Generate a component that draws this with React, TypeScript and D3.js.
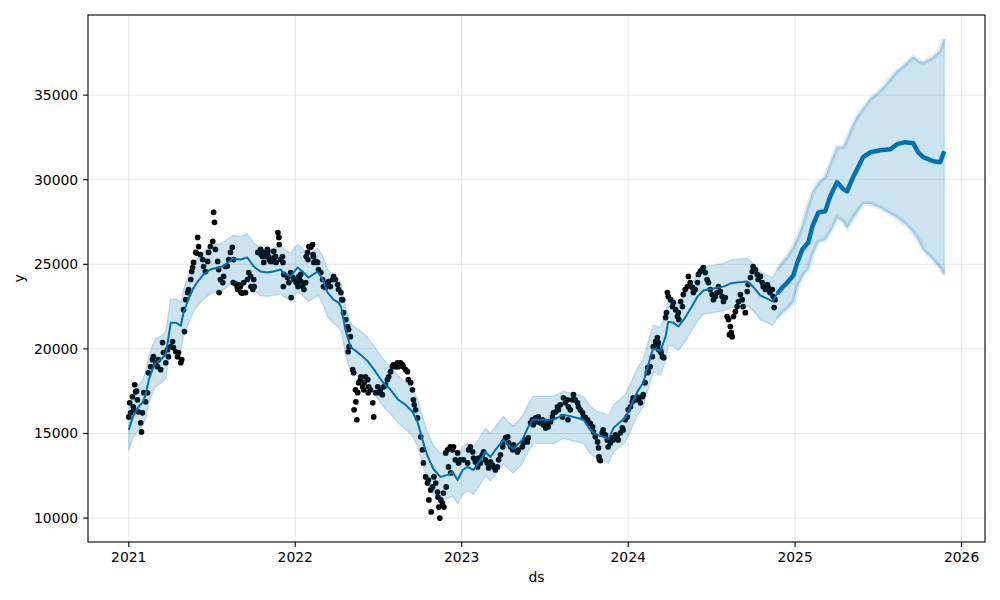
import React from "react";
import * as d3 from "d3";

// Observed data points (ds, y)
const observed: [string, number][] = [
  ["2021-01-01",15980],["2021-01-03",16810],["2021-01-05",16220],["2021-01-09",17170],["2021-01-11",16580],["2021-01-12",16400],["2021-01-14",17880],["2021-01-16",17460],["2021-01-18",17500],["2021-01-20",16990],["2021-01-22",16280],["2021-01-27",15630],["2021-01-29",15090],["2021-01-31",16220],["2021-02-03",17410],["2021-02-07",16870],["2021-02-11",17400],["2021-02-13",18590],["2021-02-18",18950],["2021-02-22",19360],["2021-02-24",19540],["2021-03-01",19180],["2021-03-05",18950],["2021-03-07",19360],["2021-03-12",18770],["2021-03-16",20370],["2021-03-18",19780],["2021-03-23",19180],["2021-03-27",19950],["2021-03-29",19540],["2021-04-03",20130],["2021-04-07",20430],["2021-04-09",20070],["2021-04-14",19830],["2021-04-18",19540],["2021-04-20",19780],["2021-04-25",19180],["2021-04-27",19360],["2021-05-01",22320],["2021-05-03",21020],["2021-05-06",22910],["2021-05-10",23330],["2021-05-12",23510],["2021-05-17",24100],["2021-05-19",24570],["2021-05-21",24810],["2021-05-23",25110],["2021-05-28",25700],["2021-05-30",25650],["2021-06-01",26590],["2021-06-03",26050],["2021-06-07",25580],["2021-06-12",25280],["2021-06-14",24870],["2021-06-18",24570],["2021-06-23",25170],["2021-06-25",25700],["2021-06-29",26050],["2021-07-04",26350],["2021-07-06",28070],["2021-07-08",27480],["2021-07-10",25880],["2021-07-15",25170],["2021-07-17",24690],["2021-07-18",23330],["2021-07-21",24100],["2021-07-26",23920],["2021-07-28",24280],["2021-08-01",24870],["2021-08-05",24900],["2021-08-08",25280],["2021-08-12",25700],["2021-08-16",26000],["2021-08-18",23920],["2021-08-19",25280],["2021-08-23",23850],["2021-08-27",23630],["2021-08-28",23510],["2021-08-30",23800],["2021-09-03",23680],["2021-09-04",23330],["2021-09-07",23300],["2021-09-10",23920],["2021-09-14",23330],["2021-09-18",24100],["2021-09-21",24510],["2021-09-25",24280],["2021-09-26",23680],["2021-09-30",23510],["2021-10-02",24100],["2021-10-03",23680],["2021-10-11",25700],["2021-10-17",25880],["2021-10-18",25580],["2021-10-21",25460],["2021-10-23",25700],["2021-10-24",25110],["2021-10-28",25460],["2021-11-01",25880],["2021-11-02",25760],["2021-11-04",25460],["2021-11-05",25280],["2021-11-08",25170],["2021-11-12",25170],["2021-11-15",25760],["2021-11-16",25400],["2021-11-19",25460],["2021-11-20",25110],["2021-11-24",26880],["2021-11-26",26590],["2021-11-27",26170],["2021-11-30",25280],["2021-12-04",25460],["2021-12-05",25110],["2021-12-06",23680],["2021-12-07",24400],["2021-12-15",24220],["2021-12-18",23920],["2021-12-22",24510],["2021-12-23",23030],["2021-12-27",24220],["2021-12-29",24100],
  ["2022-01-03",23920],["2022-01-06",23900],["2022-01-07",23680],["2022-01-09",24280],["2022-01-10",24100],["2022-01-13",24400],["2022-01-14",23980],["2022-01-17",23680],["2022-01-20",23510],["2022-01-24",23920],["2022-01-25",25460],["2022-01-28",25700],["2022-01-29",25280],["2022-01-31",26050],["2022-02-04",26000],["2022-02-08",26170],["2022-02-09",25580],["2022-02-10",25460],["2022-02-11",25110],["2022-02-15",25170],["2022-02-19",25110],["2022-02-21",24690],["2022-02-26",24510],["2022-03-02",24100],["2022-03-04",23680],["2022-03-08",23630],["2022-03-13",23920],["2022-03-15",23980],["2022-03-19",23680],["2022-03-24",24100],["2022-03-26",24280],["2022-03-30",24100],["2022-04-04",23800],["2022-04-06",23510],["2022-04-11",23330],["2022-04-13",22910],["2022-04-15",22900],["2022-04-17",22140],["2022-04-22",21730],["2022-04-26",21320],["2022-04-27",19830],["2022-04-28",21140],["2022-04-29",20130],["2022-05-02",20720],["2022-05-07",18770],["2022-05-09",18590],["2022-05-10",16400],["2022-05-13",17580],["2022-05-14",16870],["2022-05-16",15810],["2022-05-18",17410],["2022-05-20",18000],["2022-05-24",18180],["2022-05-25",18350],["2022-05-29",17760],["2022-05-31",17580],["2022-06-01",18000],["2022-06-04",18350],["2022-06-09",18180],["2022-06-10",17410],["2022-06-11",17760],["2022-06-15",17580],["2022-06-20",16810],["2022-06-22",15980],["2022-06-26",17410],["2022-07-01",17760],["2022-07-03",17410],["2022-07-07",17580],["2022-07-11",17290],["2022-07-14",17760],["2022-07-18",17880],["2022-07-22",18180],["2022-07-25",18350],["2022-07-29",18650],["2022-08-02",18950],["2022-08-04",19060],["2022-08-09",18950],["2022-08-13",19180],["2022-08-15",18950],["2022-08-20",19180],["2022-08-24",19060],["2022-08-26",18950],["2022-08-31",18770],["2022-09-04",18650],["2022-09-06",18180],["2022-09-11",18000],["2022-09-15",17580],["2022-09-17",16990],["2022-09-19",16690],["2022-09-22",16400],["2022-09-26",15920],["2022-10-03",14800],["2022-10-07",14030],["2022-10-09",13260],["2022-10-14",12430],["2022-10-18",12070],["2022-10-20",12250],["2022-10-21",11070],["2022-10-25",11660],["2022-10-26",10360],["2022-10-29",11840],["2022-11-01",12430],["2022-11-05",12070],["2022-11-09",11540],["2022-11-10",11240],["2022-11-12",10650],["2022-11-14",10000],["2022-11-16",11070],["2022-11-20",10890],["2022-11-22",11480],["2022-11-23",10650],["2022-11-27",13850],["2022-11-28",11840],["2022-12-01",14030],["2022-12-03",13020],["2022-12-07",14210],["2022-12-08",12670],["2022-12-12",14030],["2022-12-14",14210],["2022-12-18",13440],["2022-12-23",13850],["2022-12-25",13260],["2022-12-29",13440],
  ["2023-01-05",13440],["2023-01-14",13260],["2023-01-16",14030],["2023-01-20",14210],["2023-01-25",13910],["2023-01-27",13550],["2023-01-31",13320],["2023-02-05",13020],["2023-02-07",13550],["2023-02-11",13260],["2023-02-15",13730],["2023-02-18",13910],["2023-02-22",13440],["2023-02-26",13260],["2023-03-01",12960],["2023-03-05",13320],["2023-03-09",13140],["2023-03-12",13020],["2023-03-16",12840],["2023-03-20",13020],["2023-03-23",13440],["2023-03-27",13730],["2023-04-01",14210],["2023-04-03",14500],["2023-04-07",14740],["2023-04-12",14800],["2023-04-14",14440],["2023-04-18",14210],["2023-04-23",14030],["2023-04-25",14320],["2023-05-03",13910],["2023-05-05",14030],["2023-05-14",14210],["2023-05-16",14440],["2023-05-20",14620],["2023-05-25",14500],["2023-05-27",14740],["2023-06-01",15630],["2023-06-05",15810],["2023-06-07",15510],["2023-06-12",15920],["2023-06-16",15690],["2023-06-18",15980],["2023-06-23",15630],["2023-06-27",15810],["2023-06-29",15510],["2023-07-04",15330],["2023-07-08",15630],["2023-07-10",15390],["2023-07-15",15690],["2023-07-19",15980],["2023-07-21",16220],["2023-07-26",16280],["2023-07-30",16580],["2023-08-01",16400],["2023-08-05",16690],["2023-08-10",15980],["2023-08-12",17110],["2023-08-16",16810],["2023-08-21",16990],["2023-08-22",15810],["2023-08-23",16580],["2023-08-27",16400],["2023-09-01",16990],["2023-09-03",17290],["2023-09-07",16990],["2023-09-12",16810],["2023-09-14",16580],["2023-09-18",16400],["2023-09-23",16220],["2023-09-25",15980],["2023-09-29",15950],["2023-10-04",15810],["2023-10-06",15630],["2023-10-10",15600],["2023-10-15",15390],["2023-10-17",15090],["2023-10-21",14800],["2023-10-26",14500],["2023-10-28",14150],["2023-10-29",13610],["2023-10-30",13440],["2023-11-01",13400],["2023-11-05",15040],["2023-11-07",15210],["2023-11-12",14920],["2023-11-16",14620],["2023-11-18",14210],["2023-11-23",14440],["2023-11-27",14740],["2023-11-29",14620],["2023-12-04",14920],["2023-12-08",14800],["2023-12-10",14620],["2023-12-15",15040],["2023-12-19",15330],["2023-12-21",15210],["2023-12-26",15810],["2023-12-30",15980],
  ["2024-01-01",16400],["2024-01-06",16580],["2024-01-10",16870],["2024-01-12",17110],["2024-01-17",16990],["2024-01-21",17170],["2024-01-23",16990],["2024-01-28",16810],["2024-02-01",17170],["2024-02-03",17290],["2024-02-07",18000],["2024-02-12",18590],["2024-02-13",18890],["2024-02-14",18650],["2024-02-18",18950],["2024-02-23",19540],["2024-02-25",20130],["2024-03-01",20430],["2024-03-05",20660],["2024-03-06",20250],["2024-03-07",20370],["2024-03-08",19950],["2024-03-12",19900],["2024-03-13",19780],["2024-03-16",19540],["2024-03-19",19480],["2024-03-23",21850],["2024-03-25",22140],["2024-03-27",23330],["2024-03-29",23090],["2024-04-03",22910],["2024-04-07",22500],["2024-04-09",22740],["2024-04-14",22320],["2024-04-18",21910],["2024-04-20",22140],["2024-04-21",21730],["2024-04-25",22800],["2024-04-29",22500],["2024-05-01",23210],["2024-05-05",23510],["2024-05-10",23680],["2024-05-12",24280],["2024-05-16",23920],["2024-05-21",23630],["2024-05-23",23330],["2024-05-27",23510],["2024-06-01",23920],["2024-06-03",24400],["2024-06-07",24570],["2024-06-11",24690],["2024-06-14",24810],["2024-06-18",24510],["2024-06-22",24100],["2024-06-25",23920],["2024-06-29",23510],["2024-07-03",23210],["2024-07-06",22910],["2024-07-10",23090],["2024-07-14",23330],["2024-07-17",23680],["2024-07-21",23390],["2024-07-25",23090],["2024-07-28",22800],["2024-08-01",23030],["2024-08-05",21910],["2024-08-08",21730],["2024-08-10",20840],["2024-08-12",21320],["2024-08-14",20960],["2024-08-16",20720],["2024-08-19",21910],["2024-08-23",22200],["2024-08-27",22500],["2024-08-30",22800],["2024-09-03",23210],["2024-09-07",22910],["2024-09-09",22500],["2024-09-14",22140],["2024-09-18",23390],["2024-09-20",23800],["2024-09-25",24220],["2024-09-29",24570],["2024-10-01",24870],["2024-10-06",24690],["2024-10-10",24400],["2024-10-12",24100],["2024-10-17",24280],["2024-10-21",23920],["2024-10-23",23680],["2024-10-28",23510],["2024-11-01",23800],["2024-11-03",23630],["2024-11-07",23330],["2024-11-12",23510],["2024-11-14",23090],["2024-11-16",22440],["2024-11-18",22910],
];

// Forecast: ds, yhat, yhat_lower, yhat_upper
const forecast: [string, number, number, number][] = [
  ["2021-01-01",15210,14000,16400],["2021-01-10",15980,14700,17200],["2021-01-21",16520,15200,17800],["2021-02-01",16870,15500,18200],["2021-02-07",17290,15900,18700],["2021-02-14",18180,16800,19600],["2021-02-22",18770,17400,20200],["2021-03-01",19180,17800,20600],["2021-03-12",19360,17950,20750],["2021-03-23",19660,18250,21050],["2021-03-29",20660,19250,22050],["2021-04-03",21550,20150,22950],["2021-04-14",21550,20150,22950],["2021-04-25",21370,19950,22750],["2021-05-01",22140,20700,23500],["2021-05-10",22800,21400,24200],["2021-05-21",23510,22100,24900],["2021-06-01",23980,22550,25350],["2021-06-14",24400,22950,25750],["2021-06-29",24690,23250,26050],["2021-07-15",24810,23400,26200],["2021-07-26",24870,23450,26250],["2021-08-06",25110,23700,26500],["2021-08-17",25340,23900,26700],["2021-09-03",25280,23850,26650],["2021-09-18",25400,24000,26800],["2021-10-02",24870,23450,26250],["2021-10-17",24570,23150,25950],["2021-11-01",24510,23100,25900],["2021-11-14",24570,23150,25950],["2021-11-30",24690,23250,26050],["2021-12-06",24510,23100,25900],["2021-12-22",24280,22850,25650],
  ["2022-01-06",24810,23400,26200],["2022-01-17",24570,23150,25950],["2022-01-30",24220,22800,25600],["2022-02-19",24570,23150,25950],["2022-03-02",24100,22700,25500],["2022-03-13",23330,21900,24700],["2022-03-26",22910,21500,24300],["2022-04-06",22740,21300,24100],["2022-04-12",22440,21000,23800],["2022-04-21",21140,19700,22500],["2022-05-02",20130,18700,21500],["2022-05-24",19660,18250,21050],["2022-06-08",19300,17900,20700],["2022-06-26",18650,17250,20050],["2022-07-11",18060,16650,19450],["2022-07-29",17580,16150,18950],["2022-08-15",16990,15600,18400],["2022-08-31",16690,15250,18050],["2022-09-15",16280,14850,17650],["2022-09-26",15690,14250,17050],["2022-10-07",14620,13200,16000],["2022-10-18",13670,12250,15050],["2022-10-31",12900,11450,14300],["2022-11-15",12430,11000,13800],["2022-12-01",12550,11150,13950],["2022-12-12",12730,11300,14100],["2022-12-23",12250,10850,13650],
  ["2023-01-03",12840,11400,14200],["2023-01-14",13020,11600,14400],["2023-01-27",12840,11400,14200],["2023-02-07",13260,11850,14650],["2023-02-22",13910,12500,15300],["2023-03-05",13610,12200,15000],["2023-03-16",14030,12600,15400],["2023-04-02",14620,13200,16000],["2023-04-13",14320,12900,15700],["2023-04-24",14090,12650,15450],["2023-05-14",14620,13200,16000],["2023-05-27",15390,13950,16750],["2023-06-07",15810,14400,17200],["2023-06-29",15810,14400,17200],["2023-07-21",15810,14400,17200],["2023-08-12",16100,14700,17500],["2023-09-03",15980,14550,17350],["2023-09-25",15810,14400,17200],["2023-10-10",15210,13800,16600],["2023-10-25",14920,13500,16300],["2023-11-08",14800,13400,16200],["2023-11-19",14680,13250,16050],["2023-11-30",15330,13900,16700],["2023-12-15",15690,14250,17050],["2023-12-26",15920,14500,17300],
  ["2024-01-06",16580,15150,17950],["2024-01-21",17460,16050,18850],["2024-02-03",18000,16600,19400],["2024-02-19",19540,18100,20900],["2024-02-25",20010,18600,21400],["2024-03-12",19890,18450,21250],["2024-03-23",20720,19300,22100],["2024-03-29",21610,20200,23000],["2024-04-09",21550,20150,22950],["2024-04-20",21320,19900,22700],["2024-05-05",21850,20450,23250],["2024-05-21",22560,21150,23950],["2024-06-01",23090,21650,24450],["2024-06-14",23450,22050,24850],["2024-07-06",23570,22150,24950],["2024-07-28",23680,22250,25050],["2024-08-12",23860,22450,25250],["2024-08-27",23920,22500,25300],["2024-09-18",23980,22550,25350],["2024-10-01",23680,22250,25050],["2024-10-17",23150,21700,24550],["2024-11-01",22970,21550,24350],["2024-11-12",22800,21400,24200],["2024-11-23",23270,21800,24700],["2024-12-04",23630,22150,25100],["2024-12-15",23920,22400,25450],["2024-12-28",24340,22800,26000],
  ["2025-01-06",25110,23700,26500],["2025-01-17",25880,24300,27300],["2025-01-30",26290,24800,28480],["2025-02-08",27240,25600,29200],["2025-02-21",28070,26350,29800],["2025-03-08",28130,26470,30140],["2025-03-19",29020,26940,30910],["2025-04-03",29850,27770,31920],["2025-04-17",29430,27540,31920],["2025-04-25",29310,27180,32390],["2025-05-06",30020,27650,33100],["2025-05-17",30620,28130,33700],["2025-05-30",31330,28600,34170],["2025-06-15",31620,28600,34760],["2025-07-07",31740,28360,35240],["2025-07-29",31800,28010,35950],["2025-08-13",32100,27770,36420],["2025-08-30",32220,27420,36780],["2025-09-17",32160,26940,37250],["2025-09-28",31620,26470,37010],["2025-10-09",31330,25880,36900],["2025-10-31",31090,25280,37250],["2025-11-15",31030,24810,37610],["2025-11-24",31680,24400,38320],
];

const xTickYears = [2021, 2022, 2023, 2024, 2025, 2026];
const yTicks = [10000, 15000, 20000, 25000, 30000, 35000];
const xLabel = "ds";
const yLabel = "y";

const BLUE = "#0072B2";
const FONT = "'DejaVu Sans', sans-serif";

export default function App() {
  const left = 88, right = 985, top = 15, bottom = 542;
  const parse = d3.utcParse("%Y-%m-%d");

  const obs = observed.map(([d, v]) => ({ date: parse(d) as Date, v }));
  const fc = forecast.map(([d, yhat, lo, hi]) => ({ date: parse(d) as Date, yhat, lo, hi }));

  const allDates = [...obs.map((d) => d.date), ...fc.map((d) => d.date)];
  const [dMin, dMax] = d3.extent(allDates) as [Date, Date];
  const span = +dMax - +dMin;
  const x = d3
    .scaleUtc()
    .domain([new Date(+dMin - span * 0.05), new Date(+dMax + span * 0.05)])
    .range([left, right]);

  const yMin = Math.min(d3.min(obs, (d) => d.v)!, d3.min(fc, (d) => d.lo)!);
  const yMax = Math.max(d3.max(obs, (d) => d.v)!, d3.max(fc, (d) => d.hi)!);
  const yPad = (yMax - yMin) * 0.05;
  const y = d3.scaleLinear().domain([yMin - yPad, yMax + yPad]).range([bottom, top]);

  const lastObs = d3.max(obs, (d) => d.date)!;
  const splitIdx = fc.findIndex((d) => d.date > lastObs);
  const hist = fc.slice(0, splitIdx + 1);
  const fut = fc.slice(splitIdx);

  const line = d3
    .line<(typeof fc)[number]>()
    .x((d) => x(d.date))
    .y((d) => y(d.yhat));
  const upperLine = d3
    .line<(typeof fc)[number]>()
    .x((d) => x(d.date))
    .y((d) => y(d.hi));
  const lowerLine = d3
    .line<(typeof fc)[number]>()
    .x((d) => x(d.date))
    .y((d) => y(d.lo));
  const area = d3
    .area<(typeof fc)[number]>()
    .x((d) => x(d.date))
    .y0((d) => y(d.lo))
    .y1((d) => y(d.hi));

  const tickLen = 4.9;
  const fs = 13.9;

  return (
    <svg
      width={1000}
      height={600}
      style={{ position: "absolute", left: 0, top: 0, background: "#fff" }}
      fontFamily={FONT}
    >
      <rect x={0} y={0} width={1000} height={600} fill="#fff" />
      {/* grid */}
      <g stroke="#808080" strokeOpacity={0.2} strokeWidth={1}>
        {xTickYears.map((yr) => {
          const xx = x(new Date(Date.UTC(yr, 0, 1)));
          return <line key={"gx" + yr} x1={xx} x2={xx} y1={top} y2={bottom} />;
        })}
        {yTicks.map((t) => (
          <line key={"gy" + t} x1={left} x2={right} y1={y(t)} y2={y(t)} />
        ))}
      </g>

      {/* observed points */}
      <g fill="#000">
        {obs.map((d, i) => (
          <circle key={i} cx={x(d.date)} cy={y(d.v)} r={2.85} />
        ))}
      </g>

      {/* forecast line */}
      <path d={line(hist)!} fill="none" stroke={BLUE} strokeWidth={2} strokeLinejoin="round" />
      <path d={line(fut)!} fill="none" stroke={BLUE} strokeWidth={4.5} strokeLinejoin="round" />

      {/* uncertainty band */}
      <path d={area(fc)!} fill={BLUE} fillOpacity={0.2} stroke={BLUE} strokeOpacity={0.2} strokeWidth={1.3} />
      <path d={upperLine(fut)!} fill="none" stroke={BLUE} strokeOpacity={0.13} strokeWidth={5} />
      <path d={lowerLine(fut)!} fill="none" stroke={BLUE} strokeOpacity={0.13} strokeWidth={5} />

      {/* spines */}
      <rect x={left} y={top} width={right - left} height={bottom - top} fill="none" stroke="#000" strokeWidth={1.1} />

      {/* x axis ticks */}
      <g>
        {xTickYears.map((yr) => {
          const xx = x(new Date(Date.UTC(yr, 0, 1)));
          return (
            <g key={"xt" + yr}>
              <line x1={xx} x2={xx} y1={bottom} y2={bottom + tickLen} stroke="#000" strokeWidth={1.1} />
              <text x={xx} y={562} textAnchor="middle" fontSize={fs} fill="#000">
                {String(yr)}
              </text>
            </g>
          );
        })}
      </g>
      {/* y axis ticks */}
      <g>
        {yTicks.map((t) => (
          <g key={"yt" + t}>
            <line x1={left - tickLen} x2={left} y1={y(t)} y2={y(t)} stroke="#000" strokeWidth={1.1} />
            <text x={left - tickLen - 4.9} y={y(t)} dy="0.36em" textAnchor="end" fontSize={fs} fill="#000">
              {String(t)}
            </text>
          </g>
        ))}
      </g>

      <text x={(left + right) / 2} y={582} textAnchor="middle" fontSize={fs} fill="#000">
        {xLabel}
      </text>
      <text
        transform={`translate(24, ${(top + bottom) / 2}) rotate(-90)`}
        textAnchor="middle"
        fontSize={fs}
        fill="#000"
      >
        {yLabel}
      </text>
    </svg>
  );
}
